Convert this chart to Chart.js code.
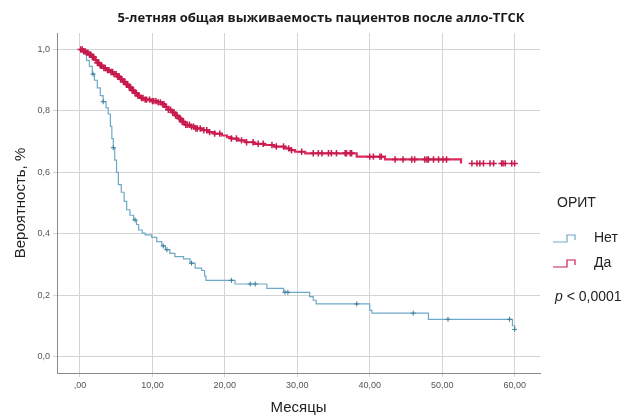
<!DOCTYPE html>
<html>
<head>
<meta charset="utf-8">
<script src="https://cdn.jsdelivr.net/npm/chart.js@4.4.1/dist/chart.umd.min.js"></script>
<style>
  html, body { margin: 0; padding: 0; background: #ffffff; }
  canvas { display: block; }
</style>
</head>
<body>
<canvas id="km" width="633" height="416"></canvas>
<script>
// Axis ticks
const xTickValues = [0, 10, 20, 30, 40, 50, 60];
const xTickLabels = [',00', '10,00', '20,00', '30,00', '40,00', '50,00', '60,00'];
const yTickValues = [0, 0.2, 0.4, 0.6, 0.8, 1.0];
const yTickLabels = ['0,0', '0,2', '0,4', '0,6', '0,8', '1,0'];

// Group "Нет": event times (months) and survival after each step
const netTimes = [0, 0.5, 0.9, 1.3, 1.7, 2.0, 2.4, 2.8, 3.2, 3.6, 3.9, 4.2, 4.4, 4.6, 4.8, 5.05, 5.3, 5.7,
  6.1, 6.45, 6.9, 7.4, 7.8, 8.1, 8.6, 9.0, 9.9, 10.6, 11.3, 11.8, 12.4, 13.1, 14.3, 15.2, 15.9, 16.8,
  17.2, 17.4, 21.4, 25.8, 28.1, 31.7, 32.2, 32.6, 40.0, 40.3, 48.1, 59.7, 60.0];
const netSurv = [1.0, 0.985, 0.965, 0.945, 0.92, 0.90, 0.875, 0.85, 0.83, 0.81, 0.79, 0.75, 0.71, 0.68,
  0.64, 0.60, 0.56, 0.535, 0.505, 0.478, 0.46, 0.445, 0.43, 0.412, 0.402, 0.396, 0.388, 0.374, 0.36,
  0.348, 0.336, 0.325, 0.318, 0.304, 0.288, 0.280, 0.262, 0.248, 0.236, 0.222, 0.209, 0.195, 0.183,
  0.171, 0.150, 0.141, 0.121, 0.100, 0.088];
const netCensored = [1.8, 3.2, 4.6, 7.6, 11.5, 12.0, 15.4, 20.9, 23.5, 24.2, 28.3, 28.7, 38.2, 46.0, 50.8, 59.3, 60.0];

// Group "Да"
const daTimes = [0, 0.4, 0.8, 1.2, 1.6, 2.0, 2.4, 2.8, 3.2, 3.6, 4.1, 4.6, 5.1, 5.6, 6.0, 6.4, 6.8, 7.2,
  7.6, 8.0, 8.4, 9.0, 9.9, 10.6, 11.2, 11.7, 12.2, 12.7, 13.2, 13.6, 14.0, 14.5, 15.2, 15.9, 16.8,
  17.7, 18.6, 19.6, 20.3, 20.9, 21.8, 22.8, 24.0, 25.5, 26.8, 28.3, 29.0, 29.7, 31.1, 38.2, 42.1, 52.6];
const daSurv = [1.0, 0.995, 0.990, 0.984, 0.976, 0.966, 0.957, 0.948, 0.940, 0.933, 0.927, 0.920, 0.912,
  0.903, 0.895, 0.886, 0.877, 0.867, 0.858, 0.849, 0.842, 0.837, 0.832, 0.828, 0.822, 0.813, 0.804,
  0.795, 0.785, 0.775, 0.765, 0.755, 0.749, 0.743, 0.737, 0.731, 0.726, 0.720, 0.715, 0.710, 0.704,
  0.698, 0.693, 0.689, 0.684, 0.678, 0.672, 0.667, 0.662, 0.651, 0.642, 0.629];
const daCensored = [0.1, 0.3, 0.5, 0.7, 0.9, 1.1, 1.3, 1.5, 1.7, 1.9, 2.2, 2.4, 2.6, 2.8, 3.0, 3.3, 3.5,
  3.8, 4.0, 4.3, 4.5, 4.7, 5.0, 5.2, 5.4, 5.6, 5.8, 6.0, 6.2, 6.4, 6.6, 6.8, 7.0, 7.2, 7.4, 7.6, 7.8,
  8.0, 8.2, 8.5, 8.7, 9.0, 9.2, 9.6, 10.0, 10.2, 10.5, 10.8, 11.1, 11.4, 11.6, 11.9, 12.2, 12.5,
  12.8, 13.0, 13.2, 13.4, 13.7, 13.9, 14.1, 14.3, 14.6, 14.8, 15.1, 15.4, 15.7, 16.0, 16.2, 16.6,
  17.1, 17.5, 17.9, 18.6, 19.3, 20.9, 21.6, 22.3, 23.0, 23.9, 24.6, 25.3, 26.5, 27.1, 28.1, 28.8,
  29.2, 30.6, 32.2, 32.9, 33.4, 34.3, 34.7, 35.4, 36.6, 36.8, 37.3, 37.5, 40.0, 40.5, 41.4, 41.6,
  43.5, 44.6, 45.8, 46.2, 47.6, 47.9, 48.1, 48.8, 49.5, 50.1, 50.6, 54.1, 54.8, 55.2, 55.7, 56.6,
  57.1, 58.2, 58.4, 58.7, 59.6, 60.0];

const groupLabels = ['Нет', 'Да'];
const legendTitle = 'ОРИТ';
const chartTitle = '5-летняя общая выживаемость пациентов после алло-ТГСК';

const netColor = '#6ea9c8';
const netMark = '#3f7d9c';
const daColor = '#dc2a5c';
const daMark = '#c61a4c';
const textFont = '"Liberation Sans", Arial, sans-serif';

// value of a Kaplan–Meier step curve at time t
function survivalAt(times, surv, t) {
  let v = surv[0];
  for (let i = 0; i < times.length; i++) if (times[i] <= t) v = surv[i];
  return v;
}
const toPoints = (times, surv) => times.map((t, i) => ({ x: t, y: surv[i] }));
const censorPoints = (cens, times, surv) => cens.map(t => ({ x: t, y: survivalAt(times, surv, t) }));

const titlePlugin = {
  id: 'kmTitle',
  afterDraw(chart) {
    const ctx = chart.ctx;
    ctx.save();
    ctx.fillStyle = '#1a1a1a';
    ctx.font = 'bold 13px "Open Sans", sans-serif';
    ctx.textAlign = 'center';
    ctx.textBaseline = 'middle';
    ctx.fillText(chartTitle, 321, 18);
    ctx.restore();
  }
};

const legendPlugin = {
  id: 'kmLegend',
  afterDraw(chart) {
    const ctx = chart.ctx;
    ctx.save();
    ctx.textBaseline = 'middle';
    ctx.textAlign = 'left';
    ctx.fillStyle = '#222';
    ctx.font = '14px ' + textFont;
    ctx.fillText(legendTitle, 557, 203);

    const rows = [
      { label: groupLabels[0], color: netColor, y: 238 },
      { label: groupLabels[1], color: daMark, y: 263 }
    ];
    rows.forEach(r => {
      ctx.strokeStyle = r.color;
      ctx.lineWidth = 1.2;
      ctx.beginPath();
      ctx.moveTo(553, r.y + 4);
      ctx.lineTo(567, r.y + 4);
      ctx.lineTo(567, r.y - 3);
      ctx.lineTo(575, r.y - 3);
      ctx.lineTo(575, r.y + 2);
      ctx.stroke();
      ctx.fillStyle = '#222';
      ctx.fillText(r.label, 594, r.y);
    });

    ctx.font = 'italic 14px ' + textFont;
    ctx.fillText('p', 555, 297);
    const pw = ctx.measureText('p').width;
    ctx.font = '14px ' + textFont;
    ctx.fillText(' < 0,0001', 555 + pw, 297);
    ctx.restore();
  }
};

new Chart(document.getElementById('km'), {
  type: 'scatter',
  data: {
    datasets: [
      {
        label: groupLabels[0],
        data: toPoints(netTimes, netSurv),
        showLine: true, stepped: true,
        borderColor: netColor, borderWidth: 1.2,
        pointRadius: 0, order: 3
      },
      {
        label: groupLabels[1],
        data: toPoints(daTimes, daSurv),
        showLine: true, stepped: true,
        borderColor: daColor, borderWidth: 2.2,
        pointRadius: 0, order: 2
      },
      {
        label: groupLabels[0] + ' (цензурированные)',
        data: censorPoints(netCensored, netTimes, netSurv),
        showLine: false, pointStyle: 'cross',
        pointRadius: 2.5, borderColor: netMark, pointBorderWidth: 1, order: 1
      },
      {
        label: groupLabels[1] + ' (цензурированные)',
        data: censorPoints(daCensored, daTimes, daSurv),
        showLine: false, pointStyle: 'cross',
        pointRadius: 3.2, borderColor: daMark, pointBorderWidth: 1.5, order: 0
      }
    ]
  },
  options: {
    responsive: false,
    animation: false,
    devicePixelRatio: 1,
    layout: { padding: { top: 33, right: 93, left: 0, bottom: 0 } },
    plugins: { legend: { display: false }, tooltip: { enabled: false }, title: { display: false } },
    scales: {
      x: {
        type: 'linear',
        min: -3.17, max: 63.5,
        afterFit(scale) { scale.height = 43; },
        afterBuildTicks(scale) { scale.ticks = xTickValues.map(v => ({ value: v })); },
        ticks: {
          callback: (v) => xTickLabels[xTickValues.indexOf(v)],
          color: '#555', font: { size: 9, family: textFont },
          padding: 3, maxRotation: 0, autoSkip: false
        },
        grid: { color: '#d4d4d4', lineWidth: 1, tickLength: 4 },
        border: { color: '#8a8a8a', width: 1 },
        title: {
          display: true, text: 'Месяцы', color: '#222',
          font: { size: 15, family: textFont },
          padding: { top: 0, bottom: -1 }
        }
      },
      y: {
        type: 'linear',
        min: -0.054, max: 1.054,
        afterFit(scale) { scale.width = 57; },
        afterBuildTicks(scale) { scale.ticks = yTickValues.map(v => ({ value: v })); },
        ticks: {
          callback: (v) => yTickLabels[yTickValues.findIndex(t => Math.abs(t - v) < 1e-9)],
          color: '#555', font: { size: 9, family: textFont },
          padding: 3, autoSkip: false
        },
        grid: { color: '#d4d4d4', lineWidth: 1, tickLength: 4 },
        border: { color: '#8a8a8a', width: 1 },
        title: {
          display: true, text: 'Вероятность, %', color: '#222',
          font: { size: 15, family: textFont },
          padding: { top: 12, bottom: 0 }
        }
      }
    }
  },
  plugins: [titlePlugin, legendPlugin]
});
</script>
</body>
</html>
